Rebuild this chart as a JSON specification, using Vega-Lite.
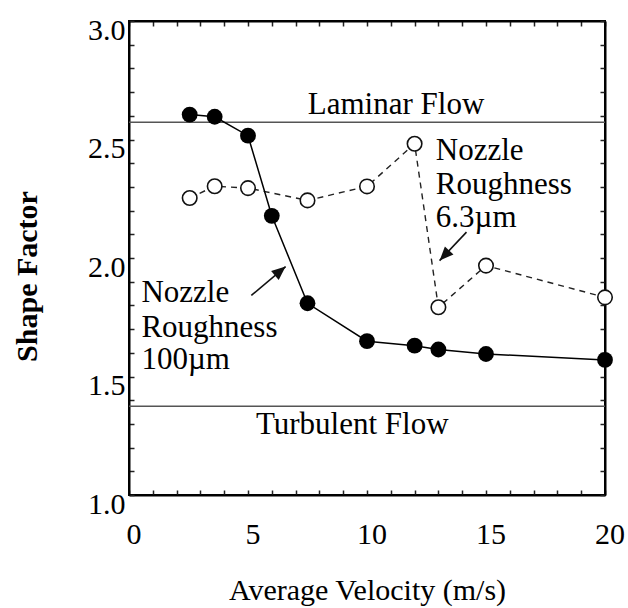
{
  "$schema": "https://vega.github.io/schema/vega-lite/v6.json",
  "autosize": "none",
  "width": 476,
  "height": 474,
  "padding": {"left": 129, "top": 21, "right": 23, "bottom": 113},
  "background": "white",
  "config": {
    "view": {"stroke": "black", "strokeWidth": 2},
    "font": "Liberation Serif",
    "axis": {
      "domainColor": "black",
      "domainWidth": 2,
      "tickColor": "#222",
      "tickWidth": 1.5,
      "tickSize": -5,
      "labelFont": "Liberation Serif",
      "labelFontSize": 30,
      "labelColor": "black",
      "titleFont": "Liberation Serif",
      "titleColor": "black",
      "grid": false,
      "labelFlush": false,
      "labelOverlap": false
    }
  },
  "datasets": {
    "filled": [
      {"v": 2.55, "s": 2.605},
      {"v": 3.6, "s": 2.596},
      {"v": 5.0, "s": 2.516},
      {"v": 6.0, "s": 2.178},
      {"v": 7.5, "s": 1.809},
      {"v": 10.0, "s": 1.649},
      {"v": 12.0, "s": 1.63},
      {"v": 13.0, "s": 1.614},
      {"v": 15.0, "s": 1.595},
      {"v": 20.0, "s": 1.57}
    ],
    "open": [
      {"v": 2.55, "s": 2.253},
      {"v": 3.6, "s": 2.303},
      {"v": 5.0, "s": 2.295},
      {"v": 7.5, "s": 2.243},
      {"v": 10.0, "s": 2.302},
      {"v": 12.0, "s": 2.482},
      {"v": 13.0, "s": 1.792},
      {"v": 15.0, "s": 1.968},
      {"v": 20.0, "s": 1.834}
    ],
    "flows": [
      {"level": 2.573},
      {"level": 1.374}
    ],
    "labels": [
      {"group": "flow", "text": "Laminar Flow", "x": 11.22, "y": 2.609},
      {"group": "flow", "text": "Turbulent Flow", "x": 9.38, "y": 1.258},
      {"group": "note", "text": "Nozzle", "x": 12.89, "y": 2.412},
      {"group": "note", "text": "Roughness", "x": 12.89, "y": 2.269},
      {"group": "note", "text": "6.3µm", "x": 12.89, "y": 2.129},
      {"group": "note", "text": "Nozzle", "x": 0.52, "y": 1.813},
      {"group": "note", "text": "Roughness", "x": 0.52, "y": 1.666},
      {"group": "note", "text": "100µm", "x": 0.52, "y": 1.533}
    ],
    "arrows": [
      {"id": "a", "x": 5.14, "y": 1.842, "x2": 6.58, "y2": 1.964},
      {"id": "b", "x": 14.18, "y": 2.109, "x2": 13.05, "y2": 1.989}
    ]
  },
  "layer": [
    {
      "data": {"name": "flows"},
      "mark": {"type": "rule", "color": "#555", "strokeWidth": 1.5},
      "encoding": {
        "y": {"field": "level", "type": "quantitative", "scale": {"domain": [1, 3], "nice": false}, "axis": null}
      }
    },
    {
      "data": {"name": "open"},
      "mark": {"type": "line", "color": "#222", "strokeWidth": 1.4, "strokeDash": [6, 5]},
      "encoding": {
        "x": {"field": "v", "type": "quantitative", "scale": {"domain": [0, 20], "nice": false},
          "axis": {"orient": "top", "values": [0,1,2,3,4,5,6,7,8,9,10,11,12,13,14,15,16,17,18,19,20], "labels": false, "title": null}},
        "y": {"field": "s", "type": "quantitative", "scale": {"domain": [1, 3], "nice": false},
          "axis": {"orient": "right", "values": [1.0,1.1,1.2,1.3,1.4,1.5,1.6,1.7,1.8,1.9,2.0,2.1,2.2,2.3,2.4,2.5,2.6,2.7,2.8,2.9,3.0], "labels": false, "title": null}}
      }
    },
    {
      "data": {"name": "filled"},
      "mark": {"type": "line", "color": "black", "strokeWidth": 1.5},
      "encoding": {
        "x": {"field": "v", "type": "quantitative", "scale": {"domain": [0, 20], "nice": false},
          "axis": {"orient": "bottom", "values": [0,1,2,3,4,5,6,7,8,9,10,11,12,13,14,15,16,17,18,19,20],
            "labelExpr": "datum.value % 5 === 0 ? datum.label : ''",
            "labelOffset": 4.5, "labelPadding": 29, "labelBaseline": "top",
            "title": "Average Velocity (m/s)", "titleFontSize": 30, "titleFontWeight": "normal",
            "titleY": 104, "titleBaseline": "alphabetic"}},
        "y": {"field": "s", "type": "quantitative", "scale": {"domain": [1, 3], "nice": false},
          "axis": {"orient": "left", "values": [1.0,1.1,1.2,1.3,1.4,1.5,1.6,1.7,1.8,1.9,2.0,2.1,2.2,2.3,2.4,2.5,2.6,2.7,2.8,2.9,3.0],
            "labelExpr": "abs(datum.value*2 - round(datum.value*2)) < 0.001 ? format(datum.value, '.1f') : ''",
            "labelOffset": 9, "labelBaseline": "middle", "labelPadding": 9,
            "title": "Shape Factor", "titleFontSize": 30, "titleFontWeight": "bold",
            "titleX": -93, "titleY": 255, "titleBaseline": "alphabetic", "titleAngle": -90, "titleAlign": "center"}}
      }
    },
    {
      "data": {"name": "filled"},
      "mark": {"type": "point", "shape": "circle", "filled": true, "color": "black", "size": 250, "opacity": 1},
      "encoding": {
        "x": {"field": "v", "type": "quantitative", "scale": {"domain": [0, 20], "nice": false}, "axis": null},
        "y": {"field": "s", "type": "quantitative", "scale": {"domain": [1, 3], "nice": false}, "axis": null}
      }
    },
    {
      "data": {"name": "open"},
      "mark": {"type": "point", "shape": "circle", "filled": true, "fill": "white", "stroke": "#111", "strokeWidth": 1.6, "size": 210, "opacity": 1},
      "encoding": {
        "x": {"field": "v", "type": "quantitative", "scale": {"domain": [0, 20], "nice": false}, "axis": null},
        "y": {"field": "s", "type": "quantitative", "scale": {"domain": [1, 3], "nice": false}, "axis": null}
      }
    },
    {
      "data": {"name": "labels"},
      "transform": [{"filter": "datum.group === 'flow'"}],
      "mark": {"type": "text", "align": "center", "baseline": "alphabetic", "font": "Liberation Serif", "fontSize": 31, "color": "black"},
      "encoding": {
        "x": {"field": "x", "type": "quantitative", "scale": {"domain": [0, 20], "nice": false}, "axis": null},
        "y": {"field": "y", "type": "quantitative", "scale": {"domain": [1, 3], "nice": false}, "axis": null},
        "text": {"field": "text"}
      }
    },
    {
      "data": {"name": "labels"},
      "transform": [{"filter": "datum.group === 'note'"}],
      "mark": {"type": "text", "align": "left", "baseline": "alphabetic", "font": "Liberation Serif", "fontSize": 31, "color": "black"},
      "encoding": {
        "x": {"field": "x", "type": "quantitative", "scale": {"domain": [0, 20], "nice": false}, "axis": null},
        "y": {"field": "y", "type": "quantitative", "scale": {"domain": [1, 3], "nice": false}, "axis": null},
        "text": {"field": "text"}
      }
    },
    {
      "data": {"name": "arrows"},
      "mark": {"type": "rule", "color": "#111", "strokeWidth": 1.6},
      "encoding": {
        "x": {"field": "x", "type": "quantitative", "scale": {"domain": [0, 20], "nice": false}, "axis": null},
        "y": {"field": "y", "type": "quantitative", "scale": {"domain": [1, 3], "nice": false}, "axis": null},
        "x2": {"field": "x2"},
        "y2": {"field": "y2"}
      }
    },
    {
      "data": {"name": "arrows"},
      "transform": [{"filter": "datum.id === 'a'"}],
      "mark": {"type": "point", "shape": "M0,0L-0.42,1L0.42,1Z", "filled": true, "color": "#111", "size": 784, "angle": 49.8, "opacity": 1},
      "encoding": {
        "x": {"field": "x2", "type": "quantitative", "scale": {"domain": [0, 20], "nice": false}, "axis": null},
        "y": {"field": "y2", "type": "quantitative", "scale": {"domain": [1, 3], "nice": false}, "axis": null}
      }
    },
    {
      "data": {"name": "arrows"},
      "transform": [{"filter": "datum.id === 'b'"}],
      "mark": {"type": "point", "shape": "M0,0L-0.42,1L0.42,1Z", "filled": true, "color": "#111", "size": 784, "angle": 223.3, "opacity": 1},
      "encoding": {
        "x": {"field": "x2", "type": "quantitative", "scale": {"domain": [0, 20], "nice": false}, "axis": null},
        "y": {"field": "y2", "type": "quantitative", "scale": {"domain": [1, 3], "nice": false}, "axis": null}
      }
    }
  ],
  "resolve": {"axis": {"x": "independent", "y": "independent"}}
}
